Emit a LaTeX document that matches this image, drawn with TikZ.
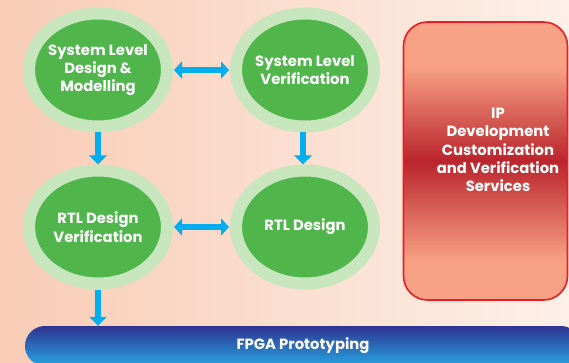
\documentclass[tikz,border=0pt]{standalone}
\usepackage{fontspec}
\setmainfont{Poppins}
\usetikzlibrary{shapes.geometric,arrows.meta,positioning}
\definecolor{ringgreen}{RGB}{200,230,190}
\definecolor{leafgreen}{RGB}{80,182,75}
\definecolor{arrowcyan}{RGB}{0,174,239}
\definecolor{ipred}{RGB}{237,28,36}
\definecolor{ipdark}{RGB}{186,36,44}
\definecolor{iplight}{RGB}{247,162,132}
\definecolor{barnavy}{RGB}{46,52,146}
\definecolor{barsky}{RGB}{40,165,225}
\definecolor{peach}{RGB}{248,204,182}
\definecolor{cream}{RGB}{253,240,232}
\pgfdeclareverticalshading{ipshade}{100bp}{color(0bp)=(iplight); color(32bp)=(iplight);
    color(50bp)=(ipdark); color(67bp)=(iplight); color(100bp)=(iplight)}
\begin{document}
\begin{tikzpicture}[x=1pt, y=-1pt,
            stage/.style={ellipse, draw=ringgreen, line width=12pt, fill=leafgreen,
                minimum width=138pt, minimum height=113pt, inner xsep=-10pt,
                text=white, align=center, font=\bfseries\fontsize{14.8}{18.3}\selectfont},
            link/.style={arrowcyan, line width=6.5pt,
                -{Triangle[width=17pt, length=9pt]}},
            dlink/.style={link, {Triangle[width=17pt, length=8pt]}-{Triangle[width=17pt, length=8pt]}, shorten >=1pt, shorten <=1pt},
            ipbox/.style={draw=ipred, line width=1.6pt, rounded corners=24pt,
                minimum width=164pt, minimum height=278pt, shading=ipshade},
            iptext/.style={text=white, align=center, font=\bfseries\fontsize{14.8}{18.3}\selectfont},
            bar/.style={rounded corners=20pt, minimum width=556pt, minimum height=40pt,
                top color=barnavy, bottom color=barsky,
                text=white, font=\bfseries\fontsize{14.8}{16}\selectfont}
        ]
            \useasboundingbox (0,0) rectangle (569,363);
            \clip (0,0) rectangle (569,363);

            % Background
            \fill[left color=peach, right color=cream] (0,0) rectangle (569,363);

            % Design flow circles
            \node[stage] (sld) at (98,70) {System Level\\Design \&\\Modelling};
            \node[stage] (slv) at (305,70) {System Level\\Verification};
            \node[stage] (rtlv) at (98,227) {RTL Design\\Verification};
            \node[stage] (rtl) at (305,227) {RTL Design};

            % IP services box
            \node[ipbox] (ip) at (485.5,161) {};
            \node[iptext] (iplabel) at (498,150) {IP\\Development\\Customization\\and Verification\\Services};

            % Prototyping bar
            \node[bar] (fpga) at (303,346) {FPGA Prototyping};

            % Arrows between stages
            \draw[dlink] (sld) -- (slv);
            \draw[dlink] (rtlv) -- (rtl);
            \draw[link] (sld) -- (rtlv);
            \draw[link] (slv.south) ++(-2,0) coordinate (slvfoot) -- (slvfoot |- rtl.north);
            \draw[link] (rtlv.south) -- (rtlv.south |- fpga.north);
        \end{tikzpicture}
\end{document}
